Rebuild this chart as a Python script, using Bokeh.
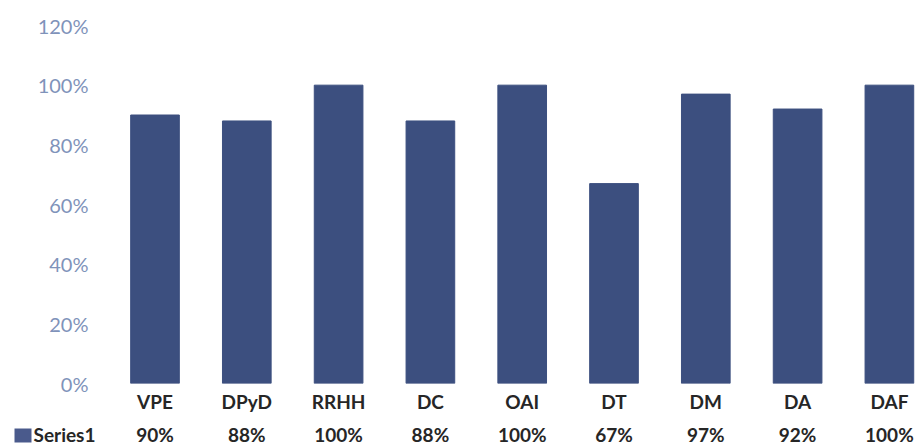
from bokeh.plotting import figure
from bokeh.models import FixedTicker, NumeralTickFormatter, Range1d
from bokeh.core.properties import value
from bokeh.embed import file_html
from bokeh.resources import INLINE

categories = ["VPE", "DPyD", "RRHH", "DC", "OAI", "DT", "DM", "DA", "DAF"]
values = [0.90, 0.88, 1.00, 0.88, 1.00, 0.67, 0.97, 0.92, 1.00]
value_labels = ["90%", "88%", "100%", "88%", "100%", "67%", "97%", "92%", "100%"]
series_name = "Series1"
y_ticks = [0, 0.2, 0.4, 0.6, 0.8, 1.0, 1.2]

W, H = 919, 448
LEFT, TOP, BOTTOM = 108, 25, 65
PX_X = 91.8                      # pixels per category
frame_w = W - LEFT
frame_h = H - TOP - BOTTOM
x_start = -(154.5 - LEFT) / PX_X
x_end = x_start + frame_w / PX_X
y_max = 1.2
PX_Y = frame_h / y_max
TEXT_SHIFT = 8                   # renderer places alphabetic baseline lower

def sx(px):  # figure pixel x -> data x
    return x_start + (px - LEFT) / PX_X

def dy(px_below):  # pixels below zero line -> data y
    return -px_below / PX_Y

p = figure(width=W, height=H, output_backend="svg", toolbar_location=None,
           x_range=Range1d(x_start, x_end), y_range=Range1d(0, y_max),
           min_border_left=LEFT, min_border_right=0,
           min_border_top=TOP, min_border_bottom=BOTTOM)
p.outline_line_color = None
p.xgrid.visible = False
p.ygrid.visible = False
p.xaxis.visible = False

ya = p.yaxis[0]
ya.ticker = FixedTicker(ticks=y_ticks)
ya.formatter = NumeralTickFormatter(format="0%")
ya.axis_line_color = None
ya.major_tick_line_color = None
ya.minor_tick_line_color = None
ya.major_tick_out = 0
ya.major_tick_in = 0
ya.major_label_standoff = 20
ya.major_label_text_font = "Lato"
ya.major_label_text_font_size = "20px"
ya.major_label_text_color = "#7F93BA"

idx = list(range(len(categories)))
bar_color = "#3C4F7F"
p.vbar(x=idx, top=values, width=0.53, bottom=0, fill_color=bar_color, line_color=bar_color)

txt_color = "#262626"
p.text(x=idx, y=[dy(26 - TEXT_SHIFT)] * len(idx), text=categories,
       text_font=value("Lato"), text_font_style="bold", text_font_size="19px",
       text_align="center", text_baseline="alphabetic", text_color=txt_color,
       level="overlay")
p.text(x=idx, y=[dy(59 - TEXT_SHIFT)] * len(idx), text=value_labels,
       text_font=value("Lato"), text_font_style="bold", text_font_size="19px",
       text_align="center", text_baseline="alphabetic", text_color=txt_color,
       level="overlay")
p.text(x=[sx(33)], y=[dy(59 - TEXT_SHIFT)], text=[series_name],
       text_font=value("Lato"), text_font_style="bold", text_font_size="19px",
       text_align="left", text_baseline="alphabetic", text_color=txt_color,
       level="overlay")
p.rect(x=[sx(22.5)], y=[dy(52)], width=17, height=14,
       width_units="screen", height_units="screen",
       fill_color="#4A5A8C", line_color=None, level="overlay")

open("out.html", "w").write(file_html(p, INLINE))
